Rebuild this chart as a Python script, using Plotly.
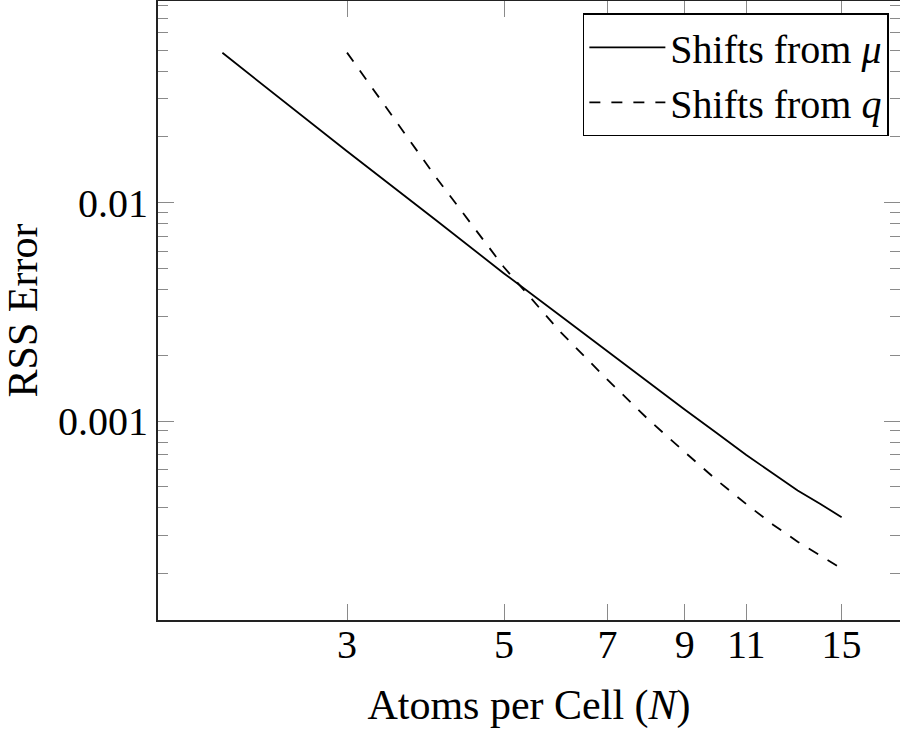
import plotly.graph_objects as go

# ---- data ----
atoms_n = [2, 3, 4, 5, 6, 7, 8, 9, 10, 11, 12, 13, 14, 15]
rss_mu = [0.0486, 0.0172, 0.00836, 0.00474, 0.00304, 0.00208, 0.00150,
          0.00113, 0.000879, 0.000698, 0.000575, 0.000480, 0.000417, 0.000362]

atoms_n_q = [3, 4, 5, 6, 7, 8, 9, 10, 11, 12, 13, 14, 15]
rss_q = [0.0487, 0.01318, 0.00506, 0.00257, 0.001547, 0.001015, 0.000721,
         0.000535, 0.000416, 0.000335, 0.000280, 0.000242, 0.000211]

x_tickvals = [3, 5, 7, 9, 11, 15]
x_ticktext = ["3", "5", "7", "9", "11", "15"]
y_tickvals = [0.01, 0.001]
y_ticktext = ["0.01", "0.001"]
y_minor_vals = [m * 1e-4 for m in range(2, 10)] + [m * 1e-3 for m in range(2, 10)] + [m * 1e-2 for m in range(2, 9)]

FONT = "Liberation Serif, DejaVu Serif, serif"
FS_TICK = 40
FS = 42
FS_LEG = 40
TICKC = "#8a8a8a"

fig = go.Figure()
fig.add_trace(go.Scatter(x=atoms_n, y=rss_mu, mode="lines",
                         name="Shifts from <i>μ</i>",
                         line=dict(color="black", width=1.8)))
fig.add_trace(go.Scatter(x=atoms_n_q, y=rss_q, mode="lines",
                         name="Shifts from <i>q</i>",
                         line=dict(color="black", width=1.8, dash="11px,11px")))

fig.update_layout(
    width=900, height=734,
    margin=dict(l=158, r=0, t=1, b=114),
    paper_bgcolor="white", plot_bgcolor="white",
    font=dict(family=FONT, size=FS, color="black"),
    showlegend=True,
    legend=dict(x=0.985, y=0.980, xanchor="right", yanchor="top",
                bordercolor="black", borderwidth=1.5, bgcolor="white",
                itemwidth=76,
                font=dict(family=FONT, size=FS_LEG), tracegroupgap=0),
)

fig.update_xaxes(
    type="log", range=[0.2100, 1.2586],
    tickmode="array", tickvals=x_tickvals, ticktext=x_ticktext,
    tickfont=dict(family=FONT, size=FS_TICK),
    ticks="inside", ticklen=16, tickwidth=1, tickcolor=TICKC,
    ticklabelstandoff=-12,
    showgrid=False, zeroline=False,
    showline=True, linecolor="#222", linewidth=2, mirror="allticks",
    title=dict(text="Atoms per Cell (<i>N</i>)", font=dict(family=FONT, size=FS), standoff=24),
    automargin=False,
)
fig.update_yaxes(
    type="log", range=[-3.9116, -1.076],
    tickmode="array", tickvals=y_tickvals, ticktext=y_ticktext,
    tickfont=dict(family=FONT, size=FS_TICK),
    ticks="inside", ticklen=16, tickwidth=1, tickcolor=TICKC,
    minor=dict(tickmode="array", tickvals=y_minor_vals, ticks="inside",
               ticklen=10, tickwidth=1, tickcolor=TICKC, showgrid=False),
    showgrid=False, zeroline=False,
    showline=True, linecolor="#222", linewidth=2, mirror="allticks",
    title=dict(text="RSS Error", font=dict(family=FONT, size=FS), standoff=18),
    automargin=False,
)

fig.write_html("out.html")
